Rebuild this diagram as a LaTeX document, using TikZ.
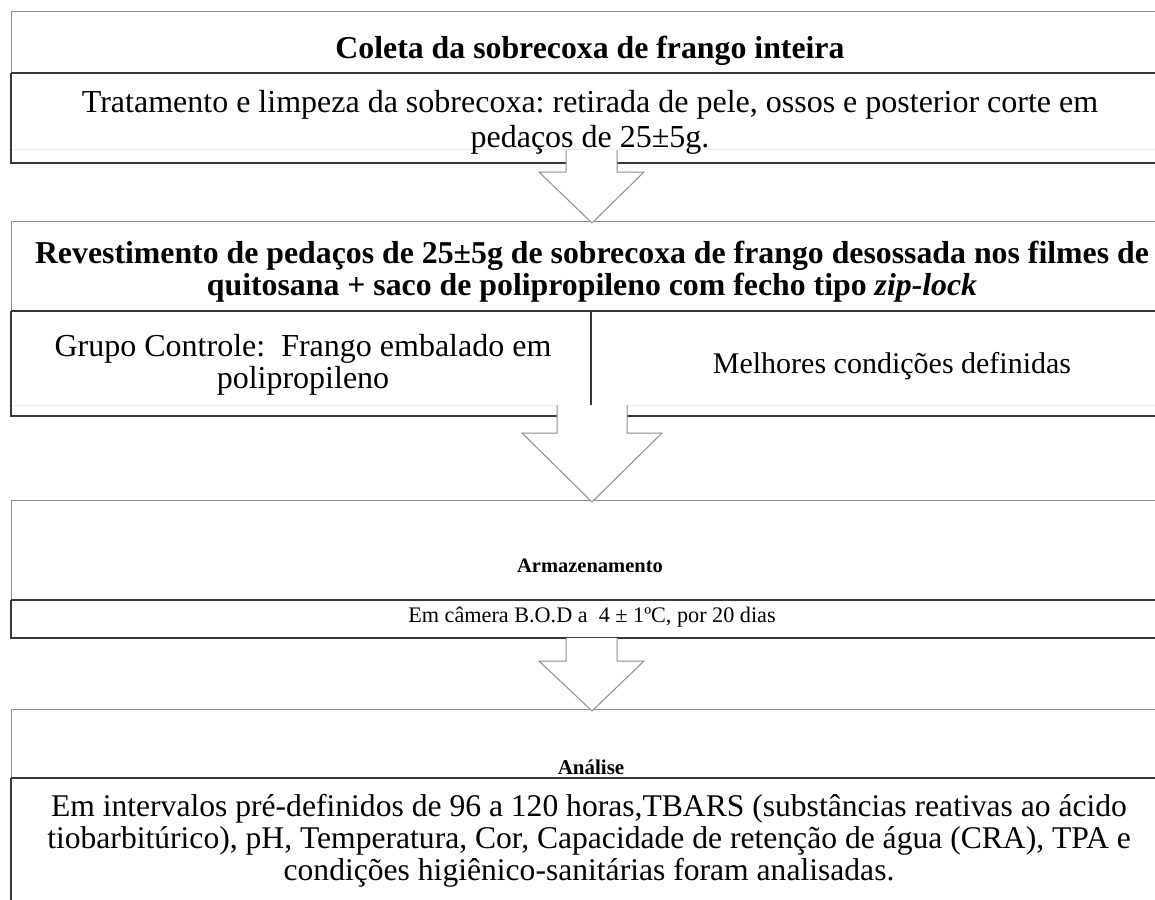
\documentclass[tikz,border=0pt]{standalone}
\usepackage{fontspec}
\setmainfont{Liberation Serif}
\frenchspacing
\begin{document}
\begin{tikzpicture}[x=1pt,y=-1pt,
  dk/.style={draw=black!78,line width=1.2pt},
  gr/.style={draw=black!45,line width=1pt},
  fa/.style={draw=black!8,line width=1pt},
  arrline/.style={draw=black!45,line width=1pt,line join=miter},
  arrfill/.style={fill=white},
  big/.style={font=\fontsize{32}{35}\selectfont, anchor=base, align=center, inner sep=0pt},
  bigb/.style={font=\fontsize{31.8}{32}\selectfont\bfseries, anchor=base, align=center, inner sep=0pt},
  small/.style={font=\fontsize{22.2}{24}\selectfont, anchor=base, inner sep=0pt},
  smallb/.style={font=\fontsize{20.5}{24}\selectfont\bfseries, anchor=base, inner sep=0pt}]
\useasboundingbox (0,0) rectangle (1155,899);
\clip (0,0) rectangle (1155,899);
% ---------- box 1
\draw[gr] (11,12) -- (1180,12);
\draw[gr] (11,12) -- (11,73);
\draw[dk] (11,73) -- (1180,73);
\draw[fa] (11,149) -- (1180,149);
\draw[dk] (11,73) -- (11,163) -- (1180,163);
\node[bigb] (h1) at (590,59) {Coleta da sobrecoxa de frango inteira};
\node[big] (c1) at (590,147) {Tratamento e limpeza da sobrecoxa: retirada de pele, ossos e posterior corte em\\pedaços de 25±5g.};
% ---------- box 2
\draw[gr] (11,221) -- (1180,221);
\draw[gr] (11,221) -- (11,311);
\draw[dk] (11,311) -- (1180,311);
\draw[fa] (11,405) -- (1180,405);
\draw[dk] (11,311) -- (11,416) -- (1180,416);
\draw[dk] (591,311) -- (591,416);
\node[bigb] (h2) at (592,295) {Revestimento de pedaços de 25±5g de sobrecoxa de frango desossada nos filmes de\\quitosana + saco de polipropileno com fecho tipo \textit{zip-lock}};
\node[big, font=\fontsize{32}{32}\selectfont] (c2a) at (303,388) {Grupo Controle:\ \ Frango embalado em\\polipropileno};
\node[big, font=\fontsize{30}{32}\selectfont] (c2b) at (892,373) {Melhores condições definidas};
% ---------- box 3
\draw[gr] (11,500) -- (1180,500);
\draw[gr] (11,500) -- (11,600);
\draw[dk] (11,600) -- (1180,600);
\draw[dk] (11,600) -- (11,638) -- (1180,638);
\node[smallb] (h3) at (590,572) {Armazenamento};
\node[small] (c3) at (592,622) {Em câmera B.O.D a\ \ 4 ± 1ºC, por 20 dias};
% ---------- box 4
\draw[gr] (11,709) -- (1180,709);
\draw[gr] (11,709) -- (11,778);
\draw[dk] (11,778) -- (1180,778);
\draw[dk] (11,778) -- (11,905);
\node[smallb, font=\fontsize{21}{24}\selectfont\bfseries] (h4) at (591,774) {Análise};
\node[big, font=\fontsize{31.6}{32}\selectfont] (c4) at (589,880) {Em intervalos pré-definidos de 96 a 120 horas,TBARS (substâncias reativas ao ácido\\tiobarbitúrico), pH, Temperatura, Cor, Capacidade de retenção de água (CRA), TPA e\\condições higiênico-sanitárias foram analisadas.};
% ---------- block arrows
\coordinate (a1) at (592,150);
\coordinate (a2) at (592,405);
\coordinate (a3) at (592,638);
\path[arrfill] ([xshift=-26pt]a1) -- ++(0,22) -- ++(-27,0) -- ++(53,51) -- ++(52,-51) -- ++(-27,0) -- ++(0,-22) -- cycle;
\draw[arrline] ([xshift=-26pt]a1) -- ++(0,22) -- ++(-27,0) -- ++(53,51) -- ++(52,-51) -- ++(-27,0) -- ++(0,-22);
\path[arrfill] ([xshift=-35pt]a2) -- ++(0,28) -- ++(-35,0) -- ++(70,69) -- ++(70,-69) -- ++(-35,0) -- ++(0,-28) -- cycle;
\draw[arrline] ([xshift=-35pt]a2) -- ++(0,28) -- ++(-35,0) -- ++(70,69) -- ++(70,-69) -- ++(-35,0) -- ++(0,-28);
\path[arrfill] ([xshift=-26pt]a3) -- ++(0,23) -- ++(-27,0) -- ++(53,50) -- ++(52,-50) -- ++(-27,0) -- ++(0,-23) -- cycle;
\draw[arrline] ([xshift=-26pt]a3) -- ++(0,23) -- ++(-27,0) -- ++(53,50) -- ++(52,-50) -- ++(-27,0) -- ++(0,-23);
\end{tikzpicture}
\end{document}
